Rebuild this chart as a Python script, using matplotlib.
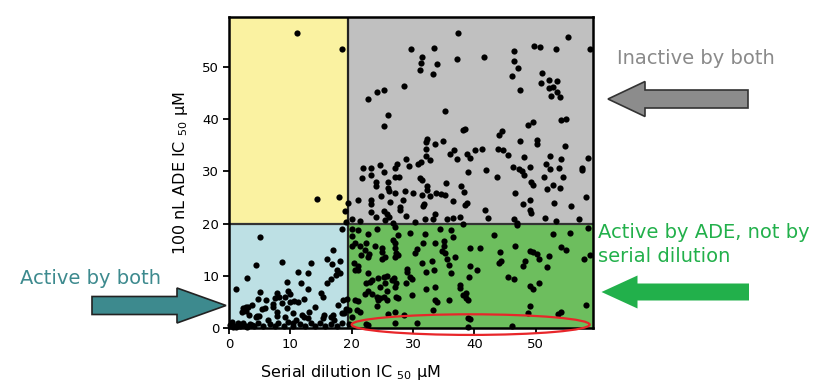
import numpy as np
import matplotlib.pyplot as plt
from matplotlib.patches import Rectangle, Ellipse, FancyArrow

plt.rcParams['font.family'] = ['DejaVu Sans']
plt.rcParams['mathtext.fontset'] = 'dejavusans'

# compounds with 100 nL ADE IC50 >= 20 and serial dilution IC50 < 20
yellow_x = [11.1, 18.4, 14.4, 17.9, 19.4, 18.9, 19.0]
yellow_y = [56.6, 53.4, 24.8, 25.2, 23.9, 22.4, 20.4]

# inactive by both
gray_x = [37.4, 29.6, 33.4, 31.4, 37.2, 31.3, 33.9, 31.1, 33.3, 28.5, 25.2, 24.2, 22.7, 26.0, 35.2,
          55.2, 41.6, 46.5, 49.7, 50.7, 53.3, 58.8, 46.5, 47.2, 46.1, 51.1, 50.9, 52.2, 53.4, 52.2,
          52.9, 53.5, 52.5, 54.0, 47.5, 54.2, 54.9,
          25.3, 38.2, 38.5, 32.3, 32.1, 34.9, 33.6, 32.1, 36.7, 36.0, 38.8, 37.1, 32.1, 32.7, 30.8,
          31.3, 28.9, 29.4, 27.4, 27.0, 24.6, 23.1, 21.8, 25.2, 23.1, 21.7, 27.0, 27.7, 25.9, 23.9,
          23.9, 31.1, 31.4, 35.4, 37.9, 32.3, 32.3, 26.0, 26.1, 28.7, 30.0, 27.1, 24.8, 31.5, 32.7,
          33.7, 34.5, 35.2, 38.3, 21.0, 23.1, 23.1, 26.2, 28.3, 31.8, 31.6, 36.5, 38.4, 27.9, 27.9,
          25.2, 25.8, 23.2, 24.0, 26.1, 28.9, 33.6, 20.1, 21.4, 26.7, 30.3, 31.9, 33.2, 35.5, 36.5,
          37.6, 25.4,
          48.8, 49.6, 44.5, 44.0, 47.4, 50.3, 50.2, 54.8, 40.1, 41.3, 39.3, 43.9, 44.6, 45.5, 48.1,
          52.4, 58.5, 51.7, 54.2, 52.4, 53.8, 57.5, 57.6, 46.3, 47.3, 47.7, 48.1, 49.0, 41.9, 38.9,
          43.7, 51.4, 54.4, 49.2, 49.5, 52.9, 53.9, 51.8, 46.7, 58.2, 49.0, 48.0, 53.0, 55.8, 49.1,
          49.3, 41.7, 42.3, 38.8, 46.4, 51.5, 53.3, 57.1, 47.0]
gray_y = [56.6, 53.4, 53.7, 51.9, 51.6, 50.7, 50.6, 49.5, 48.7, 46.4, 45.7, 45.3, 43.8, 40.9, 41.6,
          55.8, 52.0, 53.1, 54.0, 53.8, 53.5, 53.4, 51.1, 49.9, 48.2, 48.9, 47.0, 47.6, 47.4, 46.0,
          46.1, 45.3, 44.4, 44.3, 45.6, 39.8, 40.0,
          38.8, 38.0, 38.1, 36.3, 35.6, 35.9, 35.2, 34.3, 34.2, 33.4, 33.3, 32.3, 33.0, 32.2, 31.5,
          31.9, 32.4, 31.1, 31.5, 30.6, 31.2, 30.6, 30.7, 29.9, 29.3, 28.7, 28.9, 28.9, 28.0, 28.0,
          27.3, 28.7, 28.3, 27.7, 27.3, 27.2, 26.4, 26.8, 26.3, 26.2, 25.9, 25.9, 25.3, 25.5, 25.3,
          25.9, 25.7, 25.5, 26.1, 24.6, 24.5, 23.7, 24.1, 24.6, 23.8, 23.4, 24.4, 23.6, 23.2, 22.7,
          22.5, 21.8, 22.2, 21.3, 21.3, 21.5, 21.9, 20.8, 20.6, 20.2, 20.4, 20.9, 20.9, 20.8, 21.0,
          21.3, 20.7,
          38.9, 39.4, 37.8, 37.0, 35.9, 36.0, 35.3, 34.9, 34.1, 34.3, 32.6, 34.3, 34.1, 33.1, 32.8,
          32.9, 32.5, 31.5, 32.3, 30.4, 30.6, 30.6, 30.2, 30.9, 30.5, 30.1, 29.4, 30.9, 30.3, 29.9,
          28.9, 28.9, 28.9, 28.0, 27.5, 27.4, 26.9, 26.6, 25.9, 25.1, 24.6, 23.8, 24.0, 23.4, 22.6,
          22.1, 22.6, 21.1, 23.9, 20.9, 21.0, 20.5, 20.9, 20.1]

# active by both
blue_x = [18.4, 5.0, 16.9, 16.0, 16.8, 18.1, 4.4, 8.6, 13.4, 11.2, 12.8, 17.6, 18.1, 17.4, 2.9,
          16.7, 9.5, 11.7, 15.9, 1.1, 12.8, 5.0, 7.9, 9.7, 15.0, 15.4, 8.2, 9.1, 10.0, 7.5,
          4.7, 6.1, 12.3, 9.9, 10.6, 11.3, 3.8, 3.1, 7.2, 7.2, 8.6, 9.5, 5.4, 2.3, 2.7,
          2.2, 17.8, 18.6, 19.2, 19.0, 18.5, 13.1, 12.3, 12.8, 15.5, 15.3, 16.7, 17.1, 4.6, 4.9,
          6.3, 7.9, 9.1, 10.9, 10.4,
          2.8, 3.3, 4.4, 5.8, 7.9, 10.4, 11.9, 14.0, 16.9, 18.7,
          0.2, 0.5, 1.0, 1.4, 1.8, 2.3, 2.7, 3.4, 4.0, 4.8, 5.6, 6.7, 7.5, 8.0, 8.9,
          9.7, 10.5, 11.6, 12.4, 13.4, 14.0, 14.8, 15.7, 16.6, 17.6, 18.4, 0.6, 1.2, 2.0, 3.0, 3.8]
blue_y = [18.9, 17.4, 14.9, 13.2, 12.3, 12.9, 12.1, 12.6, 12.5, 10.7, 10.6, 11.2, 10.6, 10.2, 9.6,
          9.3, 8.8, 8.7, 8.7, 7.5, 7.5, 6.9, 6.8, 7.0, 6.8, 6.0, 6.0, 5.9, 6.5, 5.8,
          5.5, 5.3, 5.6, 4.9, 5.2, 5.0, 4.5, 4.1, 4.6, 4.0, 4.8, 3.8, 3.6, 3.8, 3.3,
          3.1, 4.4, 5.4, 5.5, 3.6, 2.9, 3.1, 2.2, 2.0, 2.5, 1.9, 2.2, 1.5, 2.3, 2.3,
          1.5, 2.3, 2.2, 1.5, 1.0,
          4.1, 2.5, 2.2, 3.8, 3.1, 2.8, 2.5, 4.1, 2.5, 2.8,
          0.6, 1.2, 0.4, 0.9, 0.3, 1.0, 0.4, 0.8, 0.3, 1.0, 0.4, 0.8, 0.3, 0.9, 0.4,
          1.2, 0.4, 0.8, 0.3, 1.0, 0.4, 0.9, 0.3, 0.8, 0.4, 1.0, 0.2, 0.1, 0.6, 0.2, 0.6]

# active by ADE, not by serial dilution
green_x = [20.1, 21.1, 20.1, 20.5, 20.1, 21.3, 22.6, 24.2, 27.0, 27.5, 29.5, 32.0, 34.4, 36.2, 36.6,
           35.1, 35.1, 34.8, 35.3, 33.6, 31.7, 30.6, 30.3, 26.8, 27.0, 27.1, 27.3, 24.9, 25.0, 23.8,
           22.4, 22.1, 22.8, 22.7, 21.6, 20.4, 21.0, 21.1, 20.5, 25.0, 25.4, 27.1, 27.6, 29.0, 29.1,
           31.4, 32.2, 33.1, 33.5, 35.5, 35.8, 36.2, 36.8, 22.7, 23.0, 22.4, 23.3, 24.3, 25.2, 25.7,
           26.5, 26.9, 27.3, 27.1, 24.6, 25.4, 28.8, 29.5, 29.8, 32.1, 33.6, 37.7, 37.7, 38.2, 22.2,
           22.7, 23.3, 24.1, 24.6, 25.2, 24.3, 24.1, 25.7, 25.7, 27.3, 27.6, 29.8, 33.6, 33.9, 33.3,
           35.8, 20.5, 21.1, 20.8, 21.4, 19.5, 20.0, 26.0, 27.1, 28.6, 22.7, 27.1, 19.5, 38.9, 38.2,
           22.3, 30.6,
           46.9, 43.2, 52.9, 55.6, 58.6, 39.3, 40.9, 46.6, 44.2, 49.1, 49.5, 50.3, 50.5, 52.2, 54.2,
           54.9, 58.8, 57.9, 48.3, 48.0, 44.3, 44.0, 51.8, 39.3, 40.5, 39.1, 45.5, 46.4, 50.5, 49.1,
           49.6, 38.7, 38.7, 38.9, 49.1, 48.8, 53.7, 54.1, 58.2, 39.3, 39.0, 46.1]
green_y = [18.9, 18.8, 17.6, 16.2, 15.7, 15.7, 18.1, 19.0, 19.3, 17.8, 18.3, 18.0, 18.9, 18.7, 17.5,
           16.7, 15.7, 14.8, 14.4, 16.3, 16.2, 15.1, 14.3, 16.9, 16.3, 15.3, 14.3, 15.3, 14.6, 15.7,
           16.2, 14.9, 14.2, 13.7, 14.0, 12.5, 11.9, 11.2, 11.1, 13.2, 13.7, 13.7, 14.0, 11.4, 10.8,
           12.4, 10.8, 12.9, 11.1, 13.2, 12.1, 10.5, 13.7, 10.5, 8.9, 8.6, 9.2, 9.5, 9.8, 10.0,
           9.2, 9.5, 8.6, 7.9, 7.9, 8.6, 8.6, 9.7, 9.3, 7.5, 7.9, 8.2, 7.6, 6.3, 6.6,
           7.0, 6.5, 6.0, 5.7, 6.0, 5.4, 4.2, 7.0, 5.4, 6.0, 5.7, 6.3, 5.4, 5.0, 3.4,
           5.4, 5.4, 5.2, 3.5, 3.1, 3.5, 2.2, 2.7, 3.1, 2.5, 0.6, 1.0, 0.7, 1.9, 19.9,
           0.7, 1.0,
           19.7, 17.8, 18.0, 18.3, 19.1, 15.3, 15.4, 15.8, 14.5, 14.7, 14.6, 14.1, 13.2, 13.8, 15.5,
           14.9, 14.0, 13.2, 12.8, 11.9, 12.9, 12.4, 11.7, 11.9, 11.1, 9.8, 9.7, 9.3, 8.7, 8.0,
           7.5, 6.8, 5.7, 5.4, 4.3, 2.9, 2.7, 3.0, 4.4, 1.7, 0.1, 0.3]

x_ticks = [0, 10, 20, 30, 40, 50]
y_ticks = [0, 10, 20, 30, 40, 50]
cut = 20
x_split = 19.4

fig = plt.figure(figsize=(8.2, 3.85), dpi=100)
ax = fig.add_axes([229 / 820, 57 / 385, 364 / 820, 311 / 385])
xmax, ymax = 59.35, 59.6
ax.set_xlim(0, xmax)
ax.set_ylim(0, ymax)

ax.add_patch(Rectangle((0, cut), x_split, ymax - cut, fc='#faf2a1', ec='none', zorder=0))
ax.add_patch(Rectangle((x_split, cut), xmax - x_split, ymax - cut, fc='#c0c0c0', ec='none', zorder=0))
ax.add_patch(Rectangle((0, 0), x_split, cut, fc='#bde0e4', ec='none', zorder=0))
ax.add_patch(Rectangle((x_split, 0), xmax - x_split, cut, fc='#6dbe5e', ec='none', zorder=0))
ax.axvline(x_split, color='#222222', lw=1.6, zorder=1)
ax.axhline(cut, color='#333333', lw=1.6, zorder=1)

for xs, ys in [(yellow_x, yellow_y), (gray_x, gray_y), (blue_x, blue_y), (green_x, green_y)]:
    ax.scatter(xs, ys, s=20, c='black', lw=0, zorder=3, clip_on=False)

ax.add_patch(Ellipse((39.4, 0.65), 38.8, 3.95, fill=False, ec='#e8262a', lw=1.6,
                     zorder=4, clip_on=False))

for sp in ax.spines.values():
    sp.set_linewidth(1.8)
    sp.set_color('black')
ax.set_xticks(x_ticks)
ax.set_yticks(y_ticks)
ax.tick_params(direction='out', length=4, width=1.3, labelsize=9.5, pad=3)

# overlay in pixel units for labels and arrows
ov = fig.add_axes([0, 0, 1, 1], zorder=5)
ov.set_xlim(0, 820)
ov.set_ylim(385, 0)
ov.axis('off')

ov.text(350, 373, r'Serial dilution IC $_{\mathregular{50}}$ μM', ha='center', va='center', fontsize=11.5)
ov.text(181, 173, r'100 nL ADE IC $_{\mathregular{50}}$ μM', ha='center', va='center',
        fontsize=11.5, rotation=90)

ov.add_patch(FancyArrow(748, 99, -140, 0, width=18, head_width=35, head_length=37,
                        length_includes_head=True, fc='#8c8c8c', ec='#333333', lw=1.2))
ov.add_patch(FancyArrow(749, 292, -147.5, 0, width=17, head_width=33, head_length=36,
                        length_includes_head=True, fc='#22b04b', ec='none'))
ov.add_patch(FancyArrow(92, 305.5, 134, 0, width=18, head_width=35, head_length=49,
                        length_includes_head=True, fc='#3d8a8e', ec='#222222', lw=1.2))

ov.text(617, 59, 'Inactive by both', color='#8a8a8a', fontsize=14, ha='left', va='center')
ov.text(598, 232, 'Active by ADE, not by', color='#22b04b', fontsize=14, ha='left', va='center')
ov.text(598, 256, 'serial dilution', color='#22b04b', fontsize=14, ha='left', va='center')
ov.text(20, 279, 'Active by both', color='#3d8a8e', fontsize=14, ha='left', va='center')

fig.savefig('out.png', dpi=100)
